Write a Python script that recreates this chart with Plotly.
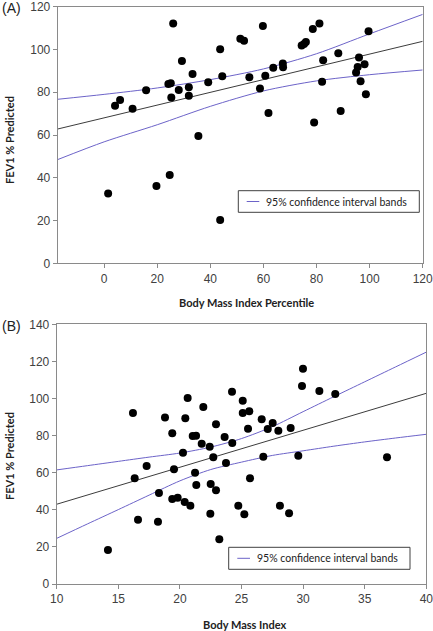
import plotly.graph_objects as go

# ---------------- Panel A data ----------------
bmi_percentile = [4.1, 6.0, 10.7, 15.8, 24.2, 25.1, 25.3, 26.0, 28.1, 29.3, 31.9, 31.9,
                  33.3, 35.5, 39.2, 43.7, 44.5, 51.3, 52.7, 54.7, 58.7, 59.8, 60.7, 61.9,
                  63.7, 67.3, 67.4, 74.4, 75.3, 76.0, 78.6, 79.1, 81.1, 82.1, 82.5, 88.2,
                  89.1, 94.9, 95.5, 96.0, 96.6, 98.1, 98.6, 99.6, 1.5, 19.7, 24.7, 43.7]
fev1_a = [73.7, 76.4, 72.3, 80.9, 83.9, 84.2, 77.5, 112.2, 81.0, 94.6, 82.3, 78.4,
          88.5, 59.5, 84.7, 100.1, 87.5, 105.0, 104.1, 87.0, 81.7, 111.0, 87.7, 70.3,
          91.5, 93.4, 91.7, 101.8, 102.6, 103.5, 109.6, 65.8, 112.2, 84.9, 94.9, 98.2,
          71.2, 89.2, 91.8, 96.2, 85.1, 93.1, 79.0, 108.5, 32.6, 36.2, 41.3, 20.3]
fit_a_x = [-17.5, 120]
fit_a_y = [62.8, 103.8]
band_a_x = [-17.5, 0, 20, 40, 60, 80, 100, 120]
band_a_upper = [76.7, 79.0, 82.0, 85.9, 90.9, 98.0, 107.3, 116.4]
band_a_lower = [48.5, 56.8, 64.8, 73.4, 80.6, 85.3, 88.2, 90.4]

# ---------------- Panel B data ----------------
bmi = [16.19, 17.3, 18.79, 19.38, 19.52, 20.25, 20.44, 20.63, 21.04, 21.31, 21.77, 21.9,
       22.42, 22.71, 22.93, 23.63, 23.74, 24.23, 24.25, 25.1, 25.1, 25.63, 25.53, 26.64,
       26.77, 27.13, 27.53, 27.99, 28.99, 29.61, 29.91, 29.99, 31.32, 32.61, 36.81, 16.33,
       16.6, 18.22, 18.3, 19.38, 19.82, 20.39, 20.85, 21.23, 21.33, 22.5, 22.47, 22.93,
       23.2, 24.74, 25.23, 25.69, 28.12, 28.86, 14.16]
fev1_b = [92.2, 63.6, 89.8, 81.2, 61.8, 70.8, 89.3, 100.3, 79.8, 79.9, 75.6, 95.4,
          74.0, 68.3, 86.1, 79.2, 65.2, 103.7, 76.0, 98.8, 92.2, 93.1, 83.7, 88.8,
          68.6, 83.6, 86.8, 82.6, 84.1, 69.2, 106.7, 116.1, 104.0, 102.4, 68.3, 57.0,
          34.7, 33.6, 49.1, 45.8, 46.5, 44.2, 42.2, 60.0, 53.4, 53.9, 37.9, 50.5,
          24.1, 42.2, 37.6, 57.0, 42.2, 38.1, 18.3]
fit_b_x = [10, 40]
fit_b_y = [43.0, 102.8]
band_b_x = [10, 12.5, 15, 17.5, 20, 22.5, 25, 27.5, 30, 32.5, 35, 37.5, 40]
band_b_upper = [61.5, 63.8, 66.1, 68.4, 70.6, 73.8, 78.4, 84.8, 92.9, 101.0, 109.0, 117.0, 125.0]
band_b_lower = [24.6, 32.4, 40.1, 47.9, 55.6, 61.7, 65.7, 69.3, 71.8, 74.3, 76.6, 78.7, 80.7]

x_ticks_a = [0, 20, 40, 60, 80, 100, 120]
y_ticks_a = [0, 20, 40, 60, 80, 100, 120]
x_ticks_b = [10, 15, 20, 25, 30, 35, 40]
y_ticks_b = [0, 20, 40, 60, 80, 100, 120, 140]

legend_label = "95% confidence interval bands"
band_color = "#6c63c8"
fit_color = "#3c3c3c"

fig = go.Figure()

def add_panel(xs, ys, fx, fy, bx, bu, bl, xa, ya):
    fig.add_trace(go.Scatter(x=bx, y=bu, mode="lines", xaxis=xa, yaxis=ya,
                             line=dict(color=band_color, width=1, shape="spline", smoothing=0.8),
                             name=legend_label, showlegend=False))
    fig.add_trace(go.Scatter(x=bx, y=bl, mode="lines", xaxis=xa, yaxis=ya,
                             line=dict(color=band_color, width=1, shape="spline", smoothing=0.8),
                             name=legend_label, showlegend=False))
    fig.add_trace(go.Scatter(x=fx, y=fy, mode="lines", xaxis=xa, yaxis=ya,
                             line=dict(color=fit_color, width=1), showlegend=False))
    fig.add_trace(go.Scatter(x=xs, y=ys, mode="markers", xaxis=xa, yaxis=ya,
                             marker=dict(color="black", size=8), showlegend=False))

add_panel(bmi_percentile, fev1_a, fit_a_x, fit_a_y, band_a_x, band_a_upper, band_a_lower, "x", "y")
add_panel(bmi, fev1_b, fit_b_x, fit_b_y, band_b_x, band_b_upper, band_b_lower, "x2", "y2")

W, H = 433, 631
tick_font = dict(family="Liberation Sans", size=12, color="#404040")
axis_common = dict(showline=True, linecolor="#8a8a8a", linewidth=1, mirror=True,
                   ticks="outside", ticklen=4, tickcolor="#8a8a8a", showgrid=False,
                   zeroline=False, tickfont=tick_font, automargin=False,
                   ticklabeloverflow="allow")

fig.update_layout(
    width=W, height=H, autosize=False, margin=dict(l=0, r=0, t=0, b=0, pad=0),
    plot_bgcolor="white", paper_bgcolor="white", showlegend=False,
    xaxis=dict(domain=[57.7 / W, 422.7 / W], range=[-17.5, 120], tickvals=x_ticks_a,
               anchor="y", **axis_common),
    yaxis=dict(domain=[1 - 263.3 / H, 1 - 6.7 / H], range=[0, 120], tickvals=y_ticks_a,
               anchor="x", **axis_common),
    xaxis2=dict(domain=[56.7 / W, 426.3 / W], range=[10, 40], tickvals=x_ticks_b,
                anchor="y2", **axis_common),
    yaxis2=dict(domain=[1 - 584 / H, 1 - 324.3 / H], range=[0, 140], tickvals=y_ticks_b,
                anchor="x2", **axis_common),
)

# legend boxes (pixel geometry -> paper coords)
def legend_box(x0, y0, x1, y1, lx0, lx1, tx):
    ym = (y0 + y1) / 2
    fig.add_shape(type="rect", xref="paper", yref="paper",
                  x0=x0 / W, x1=x1 / W, y0=1 - y1 / H, y1=1 - y0 / H,
                  line=dict(color="#404040", width=1), fillcolor="white", layer="above")
    fig.add_shape(type="line", xref="paper", yref="paper",
                  x0=lx0 / W, x1=lx1 / W, y0=1 - ym / H, y1=1 - ym / H,
                  line=dict(color=band_color, width=1), layer="above")
    fig.add_annotation(text=legend_label, xref="paper", yref="paper", x=tx / W, y=1 - ym / H,
                       xanchor="left", yanchor="middle", showarrow=False,
                       font=dict(family="Lato", size=10.5, color="#222"))

legend_box(238.3, 190.7, 419.3, 212.3, 246.7, 259.3, 264)
legend_box(228.7, 547.3, 410.0, 569.3, 237.3, 250.0, 255)

title_font = dict(family="Lato", size=11, color="#222")
ann = [
    dict(text="(A)", x=0 / W, y=1 - 8 / H, xanchor="left", yanchor="middle",
         font=dict(family="Liberation Sans", size=14, color="#222")),
    dict(text="(B)", x=0 / W, y=1 - 326 / H, xanchor="left", yanchor="middle",
         font=dict(family="Liberation Sans", size=14, color="#222")),
    dict(text="<b>Body Mass Index Percentile</b>", x=247 / W, y=1 - 302.7 / H,
         xanchor="center", yanchor="middle", font=title_font),
    dict(text="<b>Body Mass Index</b>", x=245 / W, y=1 - 624.3 / H,
         xanchor="center", yanchor="middle", font=title_font),
    dict(text="<b>FEV1 % Predicted</b>", x=9 / W, y=1 - 140 / H, textangle=-90,
         xanchor="center", yanchor="middle", font=title_font),
    dict(text="<b>FEV1 % Predicted</b>", x=9 / W, y=1 - 456 / H, textangle=-90,
         xanchor="center", yanchor="middle", font=title_font),
]
for a in ann:
    fig.add_annotation(xref="paper", yref="paper", showarrow=False, **a)

fig.write_html("out.html", config={"displayModeBar": False},
               post_script="document.body.style.margin='0';document.body.style.overflow='hidden';")
